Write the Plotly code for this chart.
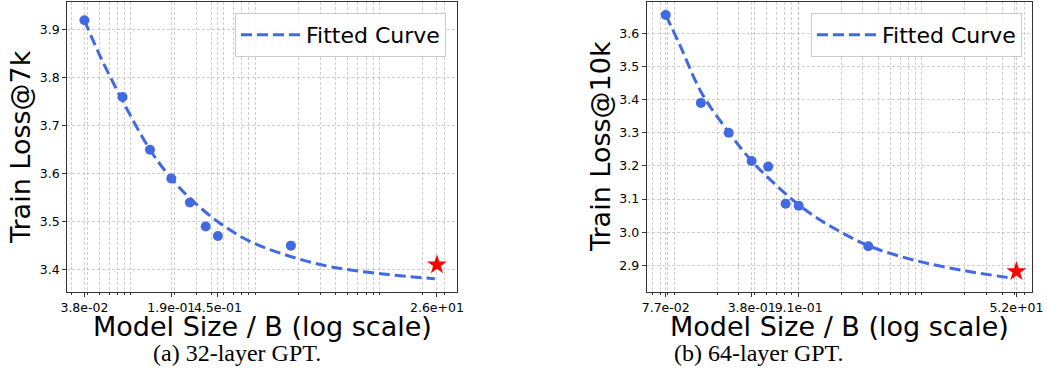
import plotly.graph_objects as go

# ---------------- data: panel (a) 32-layer GPT ----------------
a_size = [0.038, 0.077, 0.128, 0.19, 0.268, 0.359, 0.45, 1.74]
a_loss = [3.92, 3.76, 3.65, 3.59, 3.54, 3.49, 3.47, 3.45]
a_star_size = [26.0]
a_star_loss = [3.41]
a_fit_size = [0.038, 0.05, 0.077, 0.128, 0.19, 0.27, 0.45, 0.8, 1.7, 3.8, 9.6, 25.0]
a_fit_loss = [3.92, 3.849, 3.752, 3.65, 3.59, 3.548, 3.50, 3.46, 3.428, 3.405, 3.391, 3.381]
a_ticks = [0.038, 0.19, 0.45, 26.0]
a_tick_text = ["3.8e-02", "1.9e-01", "4.5e-01", "2.6e+01"]

# ---------------- data: panel (b) 64-layer GPT ----------------
b_size = [0.077, 0.148, 0.248, 0.38, 0.517, 0.714, 0.91, 3.32]
b_loss = [3.655, 3.39, 3.30, 3.215, 3.198, 3.086, 3.08, 2.958]
b_star_size = [52.0]
b_star_loss = [2.882]
b_fit_size = [0.077, 0.1, 0.15, 0.25, 0.38, 0.55, 0.8, 1.2, 1.8, 3.4, 8.0, 20.0, 48.0]
b_fit_loss = [3.655, 3.565, 3.42, 3.30, 3.215, 3.155, 3.10, 3.05, 3.01, 2.958, 2.915, 2.884, 2.862]
b_ticks = [0.077, 0.38, 0.91, 52.0]
b_tick_text = ["7.7e-02", "3.8e-01", "9.1e-01", "5.2e+01"]

y_title_a = "Train Loss@7k"
y_title_b = "Train Loss@10k"
x_title = "Model Size / B (log scale)"
captions = ["(a) 32-layer GPT.", "(b) 64-layer GPT."]
legend_name = "Fitted Curve"

# ---------------- styling ----------------
W, H = 1047, 392
BLUE = "#4169E1"
FONT = "DejaVu Sans"
GRID = "rgba(175,175,175,0.6)"
TICK_SIZE = 12.5
minor_vals = [m * 10 ** e for e in range(-2, 3) for m in range(2, 10)]


def px_x(p):
    return p / W


def px_y(p):
    return 1 - p / H


fig = go.Figure()

# panel (a)
fig.add_trace(go.Scatter(x=a_fit_size, y=a_fit_loss, mode="lines", name=legend_name,
                         line=dict(color=BLUE, width=3, dash="11px,5px", shape="spline", smoothing=1.0),
                         xaxis="x", yaxis="y", legend="legend"))
fig.add_trace(go.Scatter(x=a_size, y=a_loss, mode="markers", showlegend=False,
                         marker=dict(color=BLUE, size=10), xaxis="x", yaxis="y"))
fig.add_trace(go.Scatter(x=a_star_size, y=a_star_loss, mode="markers", showlegend=False,
                         marker=dict(color="red", size=15, symbol="star", line=dict(width=0)),
                         xaxis="x", yaxis="y"))

# panel (b)
fig.add_trace(go.Scatter(x=b_fit_size, y=b_fit_loss, mode="lines", name=legend_name,
                         line=dict(color=BLUE, width=3, dash="11px,5px", shape="spline", smoothing=1.0),
                         xaxis="x2", yaxis="y2", legend="legend2"))
fig.add_trace(go.Scatter(x=b_size, y=b_loss, mode="markers", showlegend=False,
                         marker=dict(color=BLUE, size=10), xaxis="x2", yaxis="y2"))
fig.add_trace(go.Scatter(x=b_star_size, y=b_star_loss, mode="markers", showlegend=False,
                         marker=dict(color="red", size=15, symbol="star", line=dict(width=0)),
                         xaxis="x2", yaxis="y2"))


def xaxis_cfg(dom, rng, ticks, text, anchor):
    return dict(
        domain=dom, type="log", range=rng, anchor=anchor,
        tickmode="array", tickvals=ticks, ticktext=text, tickangle=0,
        showline=True, mirror=True, linecolor="#333", linewidth=1.2,
        ticks="outside", ticklen=4, tickcolor="#333", tickwidth=1,
        tickfont=dict(family=FONT, size=TICK_SIZE, color="black"),
        showgrid=True, gridcolor=GRID, gridwidth=0.8, griddash="3px,2px",
        minor=dict(tickmode="array", tickvals=minor_vals, ticks="outside", ticklen=2,
                   tickcolor="#333", showgrid=True, gridcolor=GRID, gridwidth=0.8,
                   griddash="3px,2px"),
        zeroline=False, automargin=False,
    )


def yaxis_cfg(dom, rng, anchor):
    return dict(
        domain=dom, range=rng, anchor=anchor, dtick=0.1, tick0=0, tickformat=".1f",
        showline=True, mirror=True, linecolor="#333", linewidth=1.2,
        ticks="outside", ticklen=4, tickcolor="#333", tickwidth=1,
        tickfont=dict(family=FONT, size=TICK_SIZE, color="black"),
        showgrid=True, gridcolor=GRID, gridwidth=0.8, griddash="3px,2px",
        zeroline=False, automargin=False,
    )


ydom = [px_y(291.7), px_y(2)]
legend_common = dict(xanchor="right", yanchor="top", itemwidth=60,
                     bgcolor="rgba(255,255,255,0.85)", bordercolor="#cccccc", borderwidth=1,
                     font=dict(family=FONT, size=22, color="black"))
fig.update_layout(
    width=W, height=H, margin=dict(l=0, r=0, t=0, b=0),
    paper_bgcolor="white", plot_bgcolor="white",
    font=dict(family=FONT, color="black"),
    xaxis=xaxis_cfg([px_x(67.3), px_x(456.7)], [-1.558, 1.574], a_ticks, a_tick_text, "y"),
    yaxis=yaxis_cfg(ydom, [3.354, 3.958], "x"),
    xaxis2=xaxis_cfg([px_x(646.7), px_x(1032)], [-1.267, 1.842], b_ticks, b_tick_text, "y2"),
    yaxis2=yaxis_cfg(ydom, [2.821, 3.694], "x2"),
    legend=dict(x=px_x(446), y=px_y(13), **legend_common),
    legend2=dict(x=px_x(1022), y=px_y(13), **legend_common),
    showlegend=True,
)

ann = []
# x titles
for cx in [(67.3 + 456.7) / 2, (646.7 + 1032) / 2]:
    ann.append(dict(text=x_title, x=px_x(cx), y=px_y(326), xref="paper", yref="paper",
                    xanchor="center", yanchor="middle", showarrow=False,
                    font=dict(family=FONT, size=27, color="black")))
# y titles
for cx, t in [(20, y_title_a), (600, y_title_b)]:
    ann.append(dict(text=t, x=px_x(cx), y=px_y(147), xref="paper", yref="paper",
                    xanchor="center", yanchor="middle", showarrow=False, textangle=-90,
                    font=dict(family=FONT, size=27, color="black")))
# captions
for cx, t in [(237, captions[0]), (759, captions[1])]:
    ann.append(dict(text=t, x=px_x(cx), y=px_y(353), xref="paper", yref="paper",
                    xanchor="center", yanchor="middle", showarrow=False,
                    font=dict(family="Liberation Serif", size=24, color="black")))
fig.update_layout(annotations=ann)

fig.write_html("out.html")
